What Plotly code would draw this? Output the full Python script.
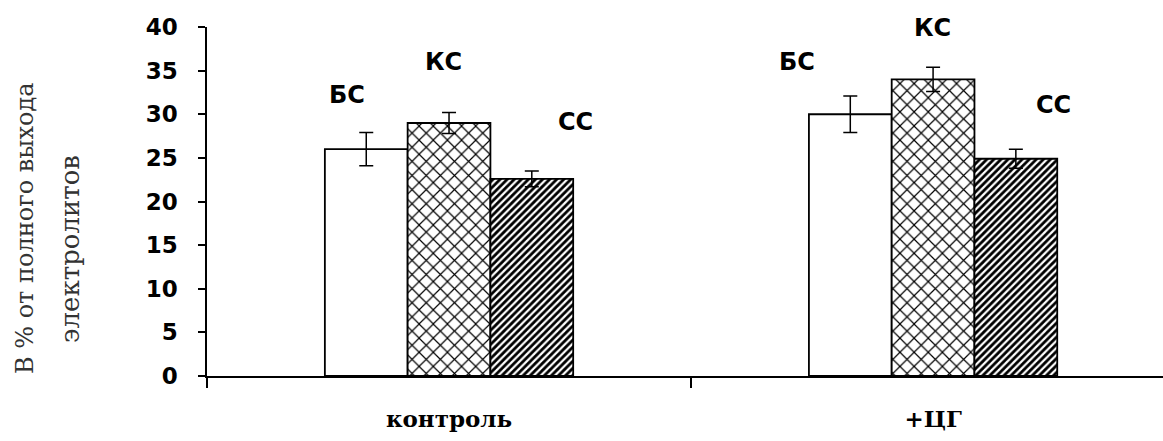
import plotly.graph_objects as go

categories = ["контроль", "+ЦГ"]
series_names = ["БС", "КС", "СС"]
bs_values = [26.0, 30.0]
ks_values = [29.0, 34.0]
cc_values = [22.6, 24.9]
bs_err = [1.9, 2.1]
ks_err = [1.2, 1.4]
cc_err = [0.9, 1.1]
y_ticks = [0, 5, 10, 15, 20, 25, 30, 35, 40]

fig = go.Figure()
patterns = [dict(shape=""),
            dict(shape="x", size=10, solidity=0.22, fgcolor="black", bgcolor="white", fgopacity=1),
            dict(shape="/", size=5, solidity=0.55, fgcolor="black", bgcolor="white", fgopacity=1)]
for name, vals, errs, pat in zip(series_names, [bs_values, ks_values, cc_values],
                                 [bs_err, ks_err, cc_err], patterns):
    fig.add_trace(go.Bar(
        x=categories, y=vals, name=name,
        marker=dict(color="white", line=dict(color="black", width=1.8), pattern=pat),
        error_y=dict(type="data", array=errs, color="black", thickness=1.5, width=7),
    ))

# series labels above bars (position offsets in layout only)
label_specs = [
    ("БС", 0, -102, 32.2), ("КС", 0, -6, 36.0), ("СС", 0, 126, 29.1),
    ("БС", 1, -136, 36.0), ("КС", 1, -1, 39.9), ("СС", 1, 120, 31.1),
]
for text, ci, xs, yv in label_specs:
    fig.add_annotation(x=categories[ci], y=yv, xref="x", yref="y", xshift=xs,
                       text=text, showarrow=False,
                       font=dict(family="DejaVu Sans", size=24, color="black", weight="bold"))

fig.add_annotation(x=-182 / 956, y=0.424, xref="paper", yref="paper", xanchor="center",
                   text="В % от полного выхода", textangle=-90, showarrow=False,
                   font=dict(family="DejaVu Serif", size=24, color="#333"))
fig.add_annotation(x=-137 / 956, y=0.364, xref="paper", yref="paper", xanchor="center",
                   text="электролитов", textangle=-90, showarrow=False,
                   font=dict(family="DejaVu Serif", size=26, color="#333"))

fig.update_layout(
    width=1163, height=441,
    margin=dict(l=207, r=0, t=27, b=65),
    paper_bgcolor="white", plot_bgcolor="white",
    barmode="group", bargap=0.487, bargroupgap=0,
    showlegend=False,
    xaxis=dict(range=[-0.5, 1.475], showline=True, linecolor="black", linewidth=1.5,
               ticks="outside", tickson="boundaries", ticklen=10, tickcolor="black", tickwidth=1.5,
               ticklabelstandoff=22,
               tickfont=dict(family="DejaVu Serif", size=23, color="black", weight="bold"),
               showgrid=False, zeroline=False),
    yaxis=dict(range=[0, 40], tickvals=y_ticks, showline=True, linecolor="black", linewidth=1.5,
               ticks="outside", ticklen=7, tickcolor="black", tickwidth=1.5,
               ticklabelstandoff=16,
               tickfont=dict(family="DejaVu Sans", size=23, color="black", weight="bold"),
               showgrid=False, zeroline=False),
)

fig.write_html("out.html")
